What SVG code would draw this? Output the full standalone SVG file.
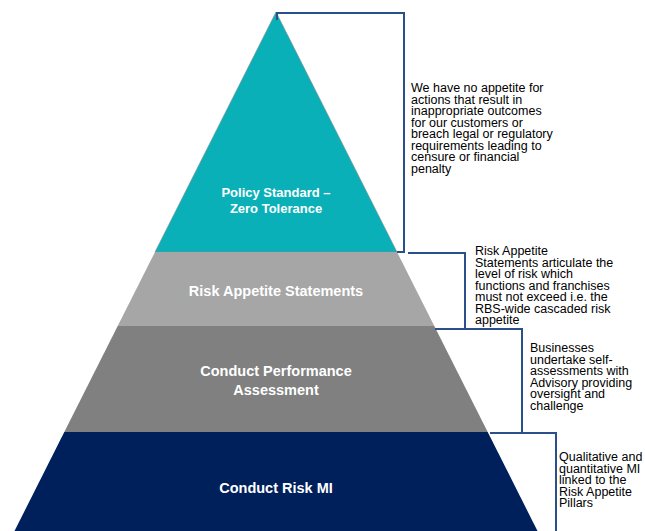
<svg xmlns="http://www.w3.org/2000/svg" width="645" height="531" viewBox="0 0 645 531">
<style>
.lbl{font-family:"Liberation Sans",Arial,sans-serif;font-weight:bold;fill:#ffffff;text-anchor:middle}
.note{font-family:"Liberation Sans",Arial,sans-serif;font-size:12.5px;fill:#000000}
.conn{fill:none;stroke:#2B4F8A;stroke-width:2}
</style>
<rect width="645" height="531" fill="#ffffff"/>
<g id="tier-policy">
<polygon points="276,12 397,252 155,252" fill="#0AB0B8" stroke="#8A8A8A" stroke-width="0.6"/>
<text class="lbl" font-size="13" x="276" y="197">Policy Standard –</text>
<text class="lbl" font-size="13" x="276" y="213">Zero Tolerance</text>
</g>
<g id="tier-statements">
<polygon points="155,252 397,252 434.3,326 117.7,326" fill="#A6A6A6"/>
<text class="lbl" font-size="14.5" x="276" y="296">Risk Appetite Statements</text>
</g>
<g id="tier-assessment">
<polygon points="117.7,326 434.3,326 487.7,432 64.3,432" fill="#808080"/>
<text class="lbl" font-size="14.5" x="276" y="376">Conduct Performance</text>
<text class="lbl" font-size="14.5" x="276" y="395">Assessment</text>
</g>
<g id="tier-mi">
<polygon points="64.3,432 487.7,432 538,532 14,532" fill="#00205B"/>
<text class="lbl" font-size="14.5" x="276" y="493">Conduct Risk MI</text>
</g>
<g id="connectors">
<path class="conn" d="M277,20 V13 H404 V252 H397"/>
<path class="conn" d="M408,253 H465 V328"/>
<path class="conn" d="M435,329 H522 V433"/>
<path class="conn" d="M490,433 H556 V531"/>
</g>
<g id="note-policy">
<text class="note" x="411" y="92">
<tspan x="411">We have no appetite for</tspan>
<tspan x="411" dy="11.5">actions that result in</tspan>
<tspan x="411" dy="11.5">inappropriate outcomes</tspan>
<tspan x="411" dy="11.5">for our customers or</tspan>
<tspan x="411" dy="11.5">breach legal or regulatory</tspan>
<tspan x="411" dy="11.5">requirements leading to</tspan>
<tspan x="411" dy="11.5">censure or financial</tspan>
<tspan x="411" dy="11.5">penalty</tspan>
</text>
</g>
<g id="note-statements">
<text class="note" x="475" y="255">
<tspan x="475">Risk Appetite</tspan>
<tspan x="475" dy="11.5">Statements articulate the</tspan>
<tspan x="475" dy="11.5">level of risk which</tspan>
<tspan x="475" dy="11.5">functions and franchises</tspan>
<tspan x="475" dy="11.5">must not exceed i.e. the</tspan>
<tspan x="475" dy="11.5">RBS-wide cascaded risk</tspan>
<tspan x="475" dy="11.5">appetite</tspan>
</text>
</g>
<g id="note-assessment">
<text class="note" x="530" y="352">
<tspan x="530">Businesses</tspan>
<tspan x="530" dy="11.5">undertake self-</tspan>
<tspan x="530" dy="11.5">assessments with</tspan>
<tspan x="530" dy="11.5">Advisory providing</tspan>
<tspan x="530" dy="11.5">oversight and</tspan>
<tspan x="530" dy="11.5">challenge</tspan>
</text>
</g>
<g id="note-mi">
<text class="note" x="559" y="461">
<tspan x="559">Qualitative and</tspan>
<tspan x="559" dy="11.5">quantitative MI</tspan>
<tspan x="559" dy="11.5">linked to the</tspan>
<tspan x="559" dy="11.5">Risk Appetite</tspan>
<tspan x="559" dy="11.5">Pillars</tspan>
</text>
</g>
</svg>
